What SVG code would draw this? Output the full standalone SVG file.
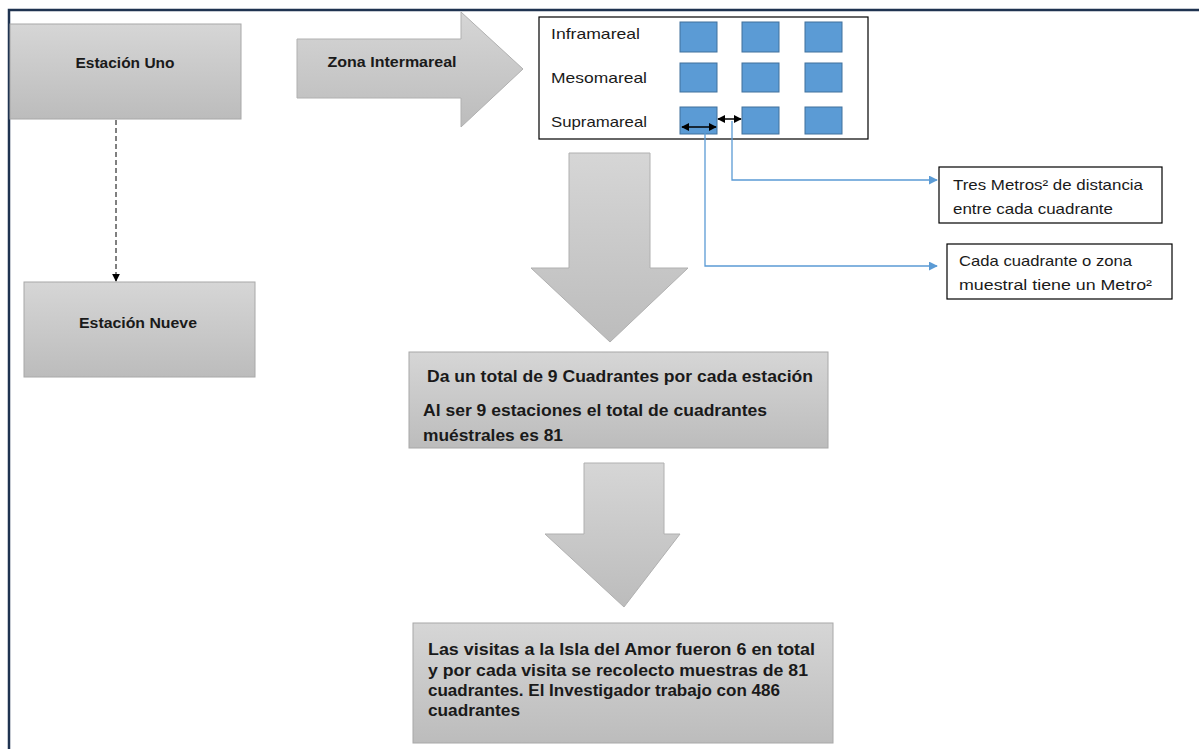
<svg xmlns="http://www.w3.org/2000/svg" width="1199" height="749" viewBox="0 0 1199 749">
<defs>
<linearGradient id="g" x1="0" y1="0" x2="0" y2="1"><stop offset="0" stop-color="#d6d6d6"/><stop offset="1" stop-color="#bcbcbc"/></linearGradient>
<marker id="ab" viewBox="0 0 10 10" refX="9" refY="5" markerWidth="8" markerHeight="8" markerUnits="userSpaceOnUse" orient="auto"><path d="M0,0 L10,5 L0,10 z" fill="#000"/></marker>
<marker id="abs" viewBox="0 0 10 10" refX="1" refY="5" markerWidth="8" markerHeight="8" markerUnits="userSpaceOnUse" orient="auto"><path d="M10,0 L0,5 L10,10 z" fill="#000"/></marker>
<marker id="blue" viewBox="0 0 10 10" refX="9" refY="5" markerWidth="9" markerHeight="9" markerUnits="userSpaceOnUse" orient="auto"><path d="M0,0 L10,5 L0,10 z" fill="#5b9bd5"/></marker>
<marker id="dash" viewBox="0 0 10 10" refX="9" refY="5" markerWidth="8" markerHeight="8" markerUnits="userSpaceOnUse" orient="auto"><path d="M0,0 L10,5 L0,10 z" fill="#000"/></marker>
</defs>
<style>
.gbox{fill:url(#g);stroke:#a8a8a8;stroke-width:1}
.garrow{fill:url(#g);stroke:#b0b0b0;stroke-width:1}
.t{font-family:"Liberation Sans",Arial,sans-serif;fill:#1a1a1a}
.b{font-weight:bold}
.sq{fill:#5b9bd5;stroke:#41719c;stroke-width:1}
.wbox{fill:#fff;stroke:#000;stroke-width:1.2}
.bl{fill:none;stroke:#5b9bd5;stroke-width:1.3}
</style>
<rect width="1199" height="749" fill="#fff"/>
<path d="M9,749 V10 H1199" fill="none" stroke="#1f3350" stroke-width="2.5"/>

<g id="estacion-uno">
<rect class="gbox" x="10" y="24" width="231" height="95"/>
<text class="t b" x="125" y="68" font-size="14.5" text-anchor="middle" textLength="99" lengthAdjust="spacingAndGlyphs">Estación Uno</text>
</g>
<g id="estacion-nueve">
<rect class="gbox" x="24" y="282" width="231" height="95"/>
<text class="t b" x="138" y="328" font-size="14.5" text-anchor="middle" textLength="118" lengthAdjust="spacingAndGlyphs">Estación Nueve</text>
</g>
<g id="zona-intermareal">
<path class="garrow" d="M297,39 H461 V12 L523,69 L461,127 V98 H297 Z"/>
<text class="t b" x="392" y="67" font-size="14.5" text-anchor="middle" textLength="129" lengthAdjust="spacingAndGlyphs">Zona Intermareal</text>
</g>
<g id="panel">
<rect class="wbox" x="539" y="17" width="329" height="122"/>
<text class="t" x="551" y="39" font-size="15" textLength="89" lengthAdjust="spacingAndGlyphs">Inframareal</text>
<text class="t" x="551" y="83" font-size="15" textLength="96" lengthAdjust="spacingAndGlyphs">Mesomareal</text>
<text class="t" x="551" y="127" font-size="15" textLength="96" lengthAdjust="spacingAndGlyphs">Supramareal</text>
<rect class="sq" x="680" y="22" width="37" height="30"/>
<rect class="sq" x="742" y="22" width="37" height="30"/>
<rect class="sq" x="805" y="22" width="37" height="30"/>
<rect class="sq" x="680" y="63" width="37" height="29"/>
<rect class="sq" x="742" y="63" width="37" height="29"/>
<rect class="sq" x="805" y="63" width="37" height="29"/>
<rect class="sq" x="680" y="107" width="37" height="27"/>
<rect class="sq" x="742" y="107" width="37" height="27"/>
<rect class="sq" x="805" y="107" width="37" height="27"/>
</g>
<g id="nota-distancia">
<rect class="wbox" x="939" y="167" width="223" height="56"/>
<text class="t" x="953" y="190" font-size="15" textLength="190" lengthAdjust="spacingAndGlyphs">Tres Metros² de distancia</text>
<text class="t" x="953" y="214" font-size="15" textLength="160" lengthAdjust="spacingAndGlyphs">entre cada cuadrante</text>
</g>
<g id="nota-cuadrante">
<rect class="wbox" x="947" y="244" width="225" height="55"/>
<text class="t" x="959" y="266" font-size="15" textLength="173" lengthAdjust="spacingAndGlyphs">Cada cuadrante o zona</text>
<text class="t" x="959" y="290" font-size="15" textLength="193" lengthAdjust="spacingAndGlyphs">muestral tiene un Metro²</text>
</g>
<g id="flecha-1">
<path class="garrow" d="M569,153 H650 V268 H688 L610,342 L531,268 H569 Z"/>
</g>
<g id="total-estacion">
<rect class="gbox" x="409" y="352" width="419" height="96"/>
<text class="t b" x="427" y="382" font-size="17" textLength="386" lengthAdjust="spacingAndGlyphs">Da un total de 9 Cuadrantes por cada estación</text>
<text class="t b" x="423" y="416" font-size="17" textLength="344" lengthAdjust="spacingAndGlyphs">Al ser 9 estaciones el total de cuadrantes</text>
<text class="t b" x="423" y="441" font-size="17" textLength="140" lengthAdjust="spacingAndGlyphs">muéstrales es 81</text>
</g>
<g id="flecha-2">
<path class="garrow" d="M584,463 H664 V534 H680 L624,607 L545,534 H584 Z"/>
</g>
<g id="visitas">
<rect class="gbox" x="413" y="623" width="420" height="120"/>
<text class="t b" x="428" y="655" font-size="17" textLength="387" lengthAdjust="spacingAndGlyphs">Las visitas a la Isla del Amor fueron 6 en total</text>
<text class="t b" x="428" y="676" font-size="17" textLength="380" lengthAdjust="spacingAndGlyphs">y por cada visita se recolecto muestras de 81</text>
<text class="t b" x="428" y="696" font-size="17" textLength="352" lengthAdjust="spacingAndGlyphs">cuadrantes. El Investigador trabajo con 486</text>
<text class="t b" x="428" y="716" font-size="17" textLength="92" lengthAdjust="spacingAndGlyphs">cuadrantes</text>
</g>
<g id="connectors">
<line x1="116" y1="120" x2="116" y2="281" stroke="#000" stroke-width="1" stroke-dasharray="5,3" marker-end="url(#dash)"/>
<line x1="682" y1="127" x2="716" y2="127" stroke="#000" stroke-width="1.5" marker-start="url(#abs)" marker-end="url(#ab)"/>
<line x1="718" y1="119" x2="741" y2="119" stroke="#000" stroke-width="1.5" marker-start="url(#abs)" marker-end="url(#ab)"/>
<path class="bl" d="M732,121 V180 H937" marker-end="url(#blue)"/>
<path class="bl" d="M705,128 V266 H937" marker-end="url(#blue)"/>
</g>
</svg>
